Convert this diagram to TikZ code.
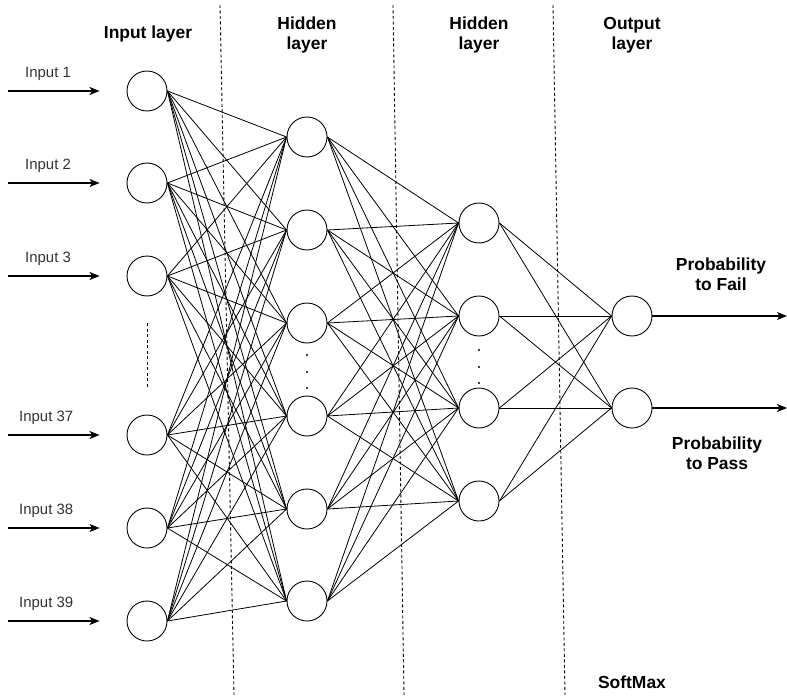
\documentclass[tikz,border=0pt]{standalone}
\usepackage{fontspec}
\setmainfont{Liberation Sans}
\usetikzlibrary{positioning,arrows.meta}

\tikzset{
  neuron/.style={draw,circle,minimum size=40bp,inner sep=0pt,line width=0.9bp},
  link/.style={line width=0.8bp},
  feed/.style={line width=1.2bp,-{Stealth[length=10bp,width=8bp,inset=2.5bp]}},
  divider/.style={dash pattern=on 3bp off 2.5bp,line width=0.9bp},
  title/.style={font=\bfseries\fontsize{17.5}{20}\selectfont,align=center,inner sep=0pt},
  inlabel/.style={font=\fontsize{15}{18}\selectfont,inner sep=0pt,text=black!80},
}

\begin{document}
\begin{tikzpicture}[x=1bp,y=-1bp]
  \useasboundingbox (0,0) rectangle (787,697);

  % layer dividers
  \draw[divider] (220,5) -- (234,695);
  \draw[divider] (393,5) -- (404,695);
  \draw[divider] (553,5) -- (565,695);

  % neurons
  \begin{scope}[every node/.style={neuron}]
    \node (inp1) at (147,91) {};
    \node (inp2) at (147,183) {};
    \node (inp3) at (147,276) {};
    \node (inp4) at (147,435) {};
    \node (inp5) at (147,528) {};
    \node (inp6) at (147,621) {};
    \node (hone1) at (307,137) {};
    \node (hone2) at (307,230) {};
    \node (hone3) at (307,323) {};
    \node (hone4) at (307,416) {};
    \node (hone5) at (307,509) {};
    \node (hone6) at (307,601) {};
    \node (htwo1) at (479,223) {};
    \node (htwo2) at (479,316) {};
    \node (htwo3) at (479,408) {};
    \node (htwo4) at (479,501) {};
    \node (out1) at (632,316) {};
    \node (out2) at (632,408) {};
  \end{scope}

  % omitted units
  \draw[divider] (147,323) -- (147,388);
  \foreach \y in {355,372,388} \fill (307,\y) circle (1.2bp);
  \foreach \y in {350,367,383} \fill (479,\y) circle (1.2bp);

  % weights
  \foreach \a in {1,...,6}
    \foreach \b in {1,...,6}
      \draw[link] (inp\a.east) -- (hone\b.west);
  \foreach \a in {1,...,6}
    \foreach \b in {1,...,4}
      \draw[link] (hone\a.east) -- (htwo\b.west);
  \foreach \a in {1,...,4}
    \foreach \b in {1,2}
      \draw[link] (htwo\a.east) -- (out\b.west);

  % inputs
  \coordinate (src1) at (8,91);
  \coordinate (src2) at (8,183);
  \coordinate (src3) at (8,276);
  \coordinate (src4) at (8,435);
  \coordinate (src5) at (8,528);
  \coordinate (src6) at (8,621);
  \foreach \a in {1,...,6} \draw[feed] (src\a) -- ([xshift=-27bp]inp\a.west);
  \begin{scope}[every node/.style={inlabel}]
    \node[above right=10bp and 17bp of src1] (lbl1) {Input 1};
    \node[above right=10bp and 17bp of src2] (lbl2) {Input 2};
    \node[above right=10bp and 17bp of src3] (lbl3) {Input 3};
    \node[above right=10bp and 11bp of src4] (lbl4) {Input 37};
    \node[above right=10bp and 11bp of src5] (lbl5) {Input 38};
    \node[above right=10bp and 11bp of src6] (lbl6) {Input 39};
  \end{scope}

  % outputs
  \coordinate (dst1) at (787,316);
  \coordinate (dst2) at (787,408);
  \draw[feed] (out1) -- (dst1);
  \draw[feed] (out2) -- (dst2);

  % titles
  \begin{scope}[every node/.style={title}]
    \node (ttlIn) at (148,34) {Input layer};
    \node (ttlHone) at (307,35) {Hidden\\layer};
    \node (ttlHtwo) at (479,35) {Hidden\\layer};
    \node (ttlOut) at (632,35) {Output\\layer};
    \node (pFail) at (721,274) {Probability\\to Fail};
    \node (pPass) at (717,453) {Probability\\to Pass};
    \node (smax) at (632,682) {SoftMax};
  \end{scope}
\end{tikzpicture}
\end{document}
